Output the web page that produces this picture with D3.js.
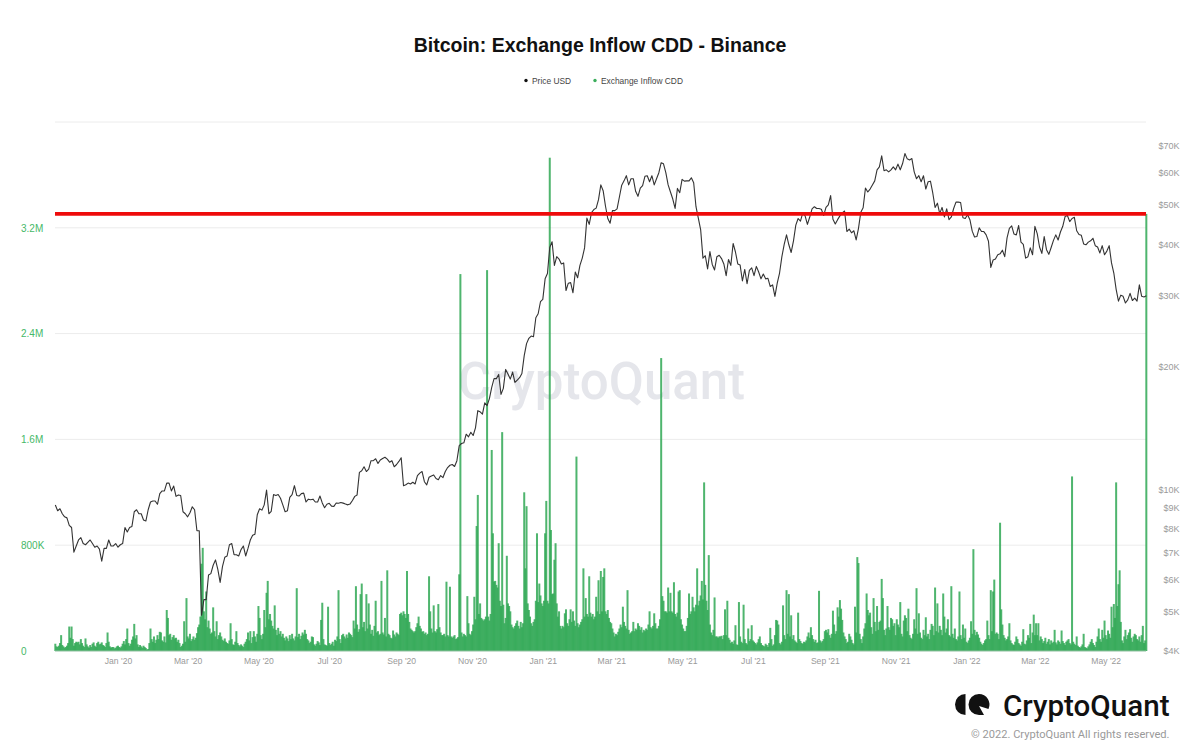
<!DOCTYPE html>
<html>
<head>
<meta charset="utf-8">
<script src="https://cdnjs.cloudflare.com/ajax/libs/d3/7.8.5/d3.min.js"></script>
<style>
html,body{margin:0;padding:0;background:#fff;}
svg{display:block;}
</style>
</head>
<body>
<svg id="c" width="1200" height="756"></svg>
<script>
// ---------- Text ----------
const chartTitle = "Bitcoin: Exchange Inflow CDD - Binance";
const seriesNames = ["Price USD", "Exchange Inflow CDD"];
const watermark = "CryptoQuant";
const copyright = "\u00A9 2022. CryptoQuant All rights reserved.";

// ---------- Axes ----------
const xTickDates = ["2020-01-01","2020-03-01","2020-05-01","2020-07-01","2020-09-01","2020-11-01","2021-01-01","2021-03-01","2021-05-01","2021-07-01","2021-09-01","2021-11-01","2022-01-01","2022-03-01","2022-05-01"];
const xTickLabels = ["Jan '20","Mar '20","May '20","Jul '20","Sep '20","Nov '20","Jan '21","Mar '21","May '21","Jul '21","Sep '21","Nov '21","Jan '22","Mar '22","May '22"];
const leftTicks = [0,800,1600,2400,3200];
const leftLabels = ["0","800K","1.6M","2.4M","3.2M"];
const gridLevels = [800,1600,2400,3200,4000];
const rightTicks = [4000,5000,6000,7000,8000,9000,10000,20000,30000,40000,50000,60000,70000];
const rightLabels = ["$4K","$5K","$6K","$7K","$8K","$9K","$10K","$20K","$30K","$40K","$50K","$60K","$70K"];
const redLevel = 3305; // thousand CDD

// ---------- Exchange Inflow CDD (thousands), daily, from each block's start date ----------
const cddStarts = ["2019-11-08","2020-01-01","2020-03-01","2020-05-01","2020-07-01","2020-09-01","2020-11-01","2021-01-01","2021-03-01","2021-05-01","2021-07-01","2021-09-01","2021-11-01","2022-01-01","2022-03-01","2022-05-01"];
const cddNovDec19 = [55,35,30,40,60,120,45,35,25,30,
40,60,185,100,185,90,40,60,70,65,
70,50,90,60,40,30,95,50,35,25,
45,30,55,65,40,30,60,70,50,55,
65,45,40,30,60,140,70,35,25,30,
30,20,25,35];
const cddJanFeb20 = [40,30,25,35,55,75,50,90,170,60,
40,55,85,110,205,95,120,50,30,45,
35,25,40,30,22,10,15,60,170,90,
70,110,60,85,120,90,145,140,80,70,
110,65,310,250,120,130,85,105,120,95,
100,70,85,60,30,40,55,225,70,400];
const cddMarApr20 = [110,95,130,75,90,110,85,100,135,180,
200,260,660,780,300,240,450,180,230,170,
130,140,330,150,110,225,90,120,140,110,
85,75,95,70,60,55,80,210,90,50,
45,70,150,60,45,35,50,40,30,55,
70,90,140,80,150,60,105,150,110,70,
130];
const cddMayJun20 = [340,250,120,90,130,310,180,440,530,240,
280,230,190,170,345,160,120,175,130,150,
110,130,100,80,110,95,75,120,90,130,
95,80,110,475,105,130,90,115,140,125,
160,130,90,80,60,70,110,105,50,40,
55,75,65,45,235,365,90,50,45,40,
335];
const cddJulAug20 = [60,45,55,70,40,85,75,110,460,90,
60,120,130,110,95,125,100,140,130,120,
105,230,170,490,200,145,165,430,510,180,
220,150,430,170,360,200,130,160,115,190,
380,140,150,120,130,530,140,125,250,110,
610,130,120,100,95,155,125,110,140,130,
120,280];
const cddSepOct20 = [290,270,300,280,250,605,280,220,170,160,
150,140,150,180,210,260,190,170,145,150,
130,140,120,130,565,300,170,140,345,150,
140,165,355,180,140,120,120,130,110,524,
120,110,486,110,100,110,120,90,95,105,
580,2850,140,110,130,120,110,415,210,130,
120];
const cddNovDec20 = [150,200,410,240,945,1180,280,360,250,240,
230,240,260,2880,260,230,280,1520,890,525,
530,500,480,815,380,340,1655,350,210,250,
720,360,340,300,200,180,170,190,210,230,
190,170,220,180,210,1200,625,1095,360,310,
260,210,190,220,240,380,890,370,510,420,
360];
const cddJanFeb21 = [340,380,890,1135,380,360,3730,915,430,435,
690,815,360,260,300,190,170,190,180,285,
315,210,190,240,315,220,300,230,190,1470,
210,180,200,220,240,625,260,400,280,260,
565,290,260,280,240,260,410,300,535,280,
605,300,560,625,300,280,310,250,220];
const cddMarApr21 = [210,170,140,110,130,120,145,170,200,180,
335,220,190,170,460,160,130,140,150,220,
150,170,160,210,190,160,180,140,160,150,
170,160,200,300,180,170,190,285,210,170,
170,190,240,2215,415,380,300,300,290,480,
300,440,300,290,520,280,260,290,450,460,
240];
const cddMayJun21 = [200,170,150,150,190,250,435,280,300,410,
330,300,350,625,345,380,420,530,390,1275,
500,380,310,725,200,140,120,160,405,110,
110,100,110,110,115,90,120,315,120,380,
100,85,60,70,55,80,195,50,45,370,
110,70,60,350,90,60,50,170,75,90,
195];
const cddJulAug21 = [80,70,60,50,65,90,110,60,45,40,
35,55,45,30,60,175,90,40,50,120,
235,230,200,60,50,70,345,120,90,460,
130,430,110,270,90,120,80,70,60,290,
90,75,60,55,70,65,80,110,140,100,
180,120,90,70,85,60,65,455,80,65,
75,90];
const cddSepOct21 = [150,160,140,165,120,100,130,305,200,130,
150,330,260,385,320,235,140,110,90,60,
70,130,110,85,60,50,335,140,710,665,
130,90,60,110,170,210,435,310,270,290,
180,130,400,220,150,340,160,220,230,545,
400,160,120,170,340,180,160,250,240,190,
210];
const cddNovDec21 = [120,240,200,180,370,130,110,230,270,250,
150,320,120,100,90,130,240,170,475,130,
285,140,100,90,160,120,255,110,130,90,
160,205,190,120,480,150,360,140,190,160,
120,435,260,140,170,240,120,110,490,130,
100,170,90,80,110,450,120,90,200,100,
170];
const cddJanFeb22 = [70,60,80,100,225,130,770,160,120,145,
125,100,70,55,45,60,80,90,230,120,
90,460,150,450,540,130,140,130,90,970,
315,200,120,100,80,90,110,210,80,60,
50,45,70,110,90,60,50,40,70,165,
55,50,80,120,100,205,60,140,275];
const cddMarApr22 = [120,210,120,210,80,110,90,60,75,100,
55,70,90,50,80,60,70,160,65,50,
80,70,55,155,75,60,45,70,80,90,
60,50,1320,70,55,45,110,40,30,25,
35,50,130,30,25,20,35,50,70,90,
60,45,30,70,110,170,90,70,160,100,
230];
const cddMay22 = [120,90,155,130,100,335,180,355,250,1275,
340,505,610,220,80,60,110,160,90,120,
140,165,100,70,110,130,120,90,80,110,
70,120,190,60,80,3305];
const cddBlocks = [cddNovDec19,cddJanFeb20,cddMarApr20,cddMayJun20,cddJulAug20,cddSepOct20,cddNovDec20,cddJanFeb21,cddMarApr21,cddMayJun21,cddJulAug21,cddSepOct21,cddNovDec21,cddJanFeb22,cddMarApr22,cddMay22];

// ---------- Price USD, every second day, from each block's start date ----------
const priceStarts = ["2019-11-08","2020-01-01","2020-03-01","2020-05-02","2020-07-01","2020-09-01","2020-11-02","2021-01-01","2021-03-02","2021-05-01","2021-07-02","2021-09-02","2021-11-01","2022-01-02","2022-03-01","2022-05-02"];
const priceNovDec19 = [9140,8850,8950,8700,8550,8500,8150,8050,7000,7250,7500,7600,7350,7300,7400,7500,7350,7200,7250,7120,6650,7150,7150,7500,7250,7250,7350];
const priceJanFeb20 = [7200,7300,7350,8050,7850,8050,8100,8800,8900,8700,8700,8400,8350,8900,9300,9350,9350,9180,9750,9900,9900,10350,10350,9900,10180,9600,9680,9650,8800,8700];
const priceMarApr20 = [8550,8750,9050,8900,7900,7900,4900,5350,5350,6150,6200,6500,6700,6350,5900,6450,6800,6850,7300,7350,6900,6900,6850,7100,7250,6850,7150,7500,7700,7750,8650];
const priceMayJun20 = [8950,8880,9150,9950,8700,8820,9700,9650,9700,9500,9150,8800,8850,9550,9700,10200,9650,9620,9750,9780,9300,9450,9420,9450,9300,9300,9620,9250,9000,9180];
const priceJulAug20 = [9230,9080,9070,9250,9230,9270,9240,9190,9150,9200,9380,9600,9680,11000,11100,11350,11050,11200,11750,11750,11880,11570,11800,11900,11980,11850,11650,11750,11350,11500,11700];
const priceSepOct20 = [11950,10200,10250,10350,10300,10400,10300,10800,10950,11050,10430,10250,10700,10780,10840,10620,10550,10800,10680,11050,11300,11450,11500,11370,11750,12800,12950,13000,13650,13450,13800];
const priceNovDec20 = [13550,14150,15600,15500,15300,16300,16050,16700,17800,18700,18700,19150,17100,17700,19700,19200,18650,19400,18300,18550,18800,19250,21300,22800,23500,23800,23700,26400,27000,28900];
const priceJanFeb21 = [29300,32900,33900,39300,40600,35500,37300,36800,35800,36000,30800,32100,32200,30400,34200,33100,35500,37000,39200,46400,44800,47900,48700,49100,51500,56000,54200,49700,46300,45100];
const priceMarApr21 = [48400,48400,48900,52300,55900,57300,59000,56000,58000,58000,54000,52500,55000,55800,58800,59000,57000,59000,56000,58000,60000,63500,63100,60000,56000,53800,51700,49000,54900,53600];
const priceMayJun21 = [57800,57200,57300,57300,58300,56700,49500,46400,43500,37000,37500,34800,38400,35700,34600,37300,37600,36900,35800,33500,36700,35500,40200,38300,35800,35600,32500,34700,32000,34500,35000];
const priceJulAug21 = [33500,35300,34200,32900,33800,32900,33000,31500,31800,29800,32100,34000,37300,40000,42200,39900,38200,40800,44600,46300,45600,47800,47000,44800,46700,48900,49500,49000,49000,48800,47100];
const priceSepOct21 = [49300,50000,52700,46100,44900,46000,47000,47800,48300,43000,43600,42700,43200,41000,43800,48000,49200,55000,53800,54700,56000,57300,61000,62000,66000,60700,61000,60300,61000,62000];
const priceNovDec21 = [61000,63000,61000,63200,66900,64900,64500,65000,60300,58000,59000,57000,59000,54700,57000,57200,53500,49300,50500,47600,49300,46700,48900,46000,46700,49000,50800,50800,50700,46500,46300];
const priceJanFeb22 = [47300,46000,43100,41700,41800,43900,43000,43000,42200,40700,35100,36600,36800,37700,37900,38700,37300,41500,43800,44400,42400,42200,44500,40500,40000,37000,37300,39200,37700];
const priceMarApr22 = [44300,42500,39400,38000,41800,38800,37800,39300,40900,42200,41000,42900,44300,46800,47100,45500,46300,46600,43200,42300,42100,40100,39900,40500,40800,41400,39700,39400,38100,39700,37700];
const priceMay22 = [38500,39700,36000,34000,31000,29000,30000,29800,28700,29200,30300,29100,29500,29000,31800,29800,29700,29900];
const priceBlocks = [priceNovDec19,priceJanFeb20,priceMarApr20,priceMayJun20,priceJulAug20,priceSepOct20,priceNovDec20,priceJanFeb21,priceMarApr21,priceMayJun21,priceJulAug21,priceSepOct21,priceNovDec21,priceJanFeb22,priceMarApr22,priceMay22];

// ---------- Build ----------
const DAY = 864e5;
const parse = d3.utcParse("%Y-%m-%d");
const cddData = cddBlocks.flatMap((b,k)=>b.map((v,i)=>({date:new Date(+parse(cddStarts[k])+i*DAY),v})));
const priceData = priceBlocks.flatMap((b,k)=>b.map((v,i)=>({date:new Date(+parse(priceStarts[k])+2*i*DAY),v})));

const GREEN="#30a855", GRID="#ececec", AXIS="#9a9a9a";
const x = d3.scaleUtc().domain([parse("2020-01-01"),parse("2022-05-01")]).range([118,1105.7]);
const plotL = 55, plotR = 1146;
const yCdd = d3.scaleLinear().domain([0,4000]).range([651,122]);
const yPrice = d3.scaleLog().domain([4000,70000]).range([651,145.5]);

const svg = d3.select("#c");
svg.append("text").attr("x",600).attr("y",52).attr("text-anchor","middle")
  .attr("font-family","Liberation Sans").attr("font-weight",700).attr("font-size",19.5).attr("fill","#111").text(chartTitle);

// legend
const legendX=[526,595], legendCol=["#111","#3bae5c"];
seriesNames.forEach((n,i)=>{
  svg.append("circle").attr("cx",legendX[i]).attr("cy",80.5).attr("r",1.7).attr("fill",legendCol[i]);
  svg.append("text").attr("x",legendX[i]+6).attr("y",83.5).attr("font-family","Liberation Sans").attr("font-size",8.4).attr("fill","#444").text(n);
});

// grid
svg.append("g").selectAll("line").data(gridLevels).join("line")
  .attr("x1",plotL).attr("x2",plotR).attr("y1",d=>yCdd(d)).attr("y2",d=>yCdd(d)).attr("stroke",GRID).attr("stroke-width",1);

// watermark
svg.append("text").attr("x",458).attr("y",399).attr("font-family","Roboto").attr("font-weight",500).attr("font-size",51)
  .attr("fill","#e5e6eb").text(watermark);

// bars
svg.append("g").selectAll("rect").data(cddData).join("rect")
  .attr("x",d=>x(d.date)-1).attr("width",2)
  .attr("y",d=>yCdd(d.v)).attr("height",d=>yCdd(0)-yCdd(d.v)).attr("fill",GREEN).attr("fill-opacity",0.85);
svg.append("line").attr("x1",plotL).attr("x2",plotR).attr("y1",yCdd(0)).attr("y2",yCdd(0)).attr("stroke","#8fbf9f").attr("stroke-width",1);

// price
const line = d3.line().x(d=>x(d.date)).y(d=>yPrice(d.v));
svg.append("path").datum(priceData).attr("d",line).attr("fill","none").attr("stroke","#333").attr("stroke-width",1.1).attr("stroke-linejoin","round");

// red level
svg.append("line").attr("x1",plotL).attr("x2",plotR).attr("y1",yCdd(redLevel)).attr("y2",yCdd(redLevel)).attr("stroke","#ee0b0b").attr("stroke-width",3.6);

// axes
const xAxis = d3.axisBottom(x).tickValues(xTickDates.map(parse)).tickSize(0).tickFormat((d,i)=>xTickLabels[i]);
const gx = svg.append("g").attr("transform","translate(0,651)").call(xAxis);
gx.select(".domain").remove();
gx.selectAll("text").attr("y",7).attr("font-family","Liberation Sans").attr("font-size",8.6).attr("fill",AXIS);

const lAxis = d3.axisLeft(yCdd).tickValues(leftTicks).tickSize(0).tickFormat((d,i)=>leftLabels[i]);
const gl = svg.append("g").attr("transform","translate(21,0)").call(lAxis);
gl.select(".domain").remove();
gl.selectAll("text").attr("x",0).attr("text-anchor","start").attr("font-family","Liberation Sans").attr("font-size",10).attr("fill","#46b867");

const rAxis = d3.axisRight(yPrice).tickValues(rightTicks).tickSize(0).tickFormat((d,i)=>rightLabels[i]);
const gr = svg.append("g").attr("transform","translate(1179.5,0)").call(rAxis);
gr.select(".domain").remove();
gr.selectAll("text").attr("x",0).attr("text-anchor","end").attr("font-family","Liberation Sans").attr("font-size",9).attr("fill",AXIS);

// brand logo + footer
const logo = svg.append("g").attr("fill","#111");
logo.append("path").attr("d","M965.5 694 A10.5 10.5 0 0 0 965.5 715 Z");
logo.append("path").attr("d","M979 694 A10.5 10.5 0 0 0 979 715 L984 715 L979 706 L988.5 709 A10.5 10.5 0 0 0 979 694 Z");
svg.append("text").attr("x",1169.5).attr("y",715.5).attr("text-anchor","end").attr("font-family","Roboto").attr("font-weight",500).attr("font-size",29.6).attr("fill","#111").text(watermark);
svg.append("text").attr("x",1169.5).attr("y",737.5).attr("text-anchor","end").attr("font-family","Roboto").attr("font-size",11.1).attr("fill","#9a9a9a").text(copyright);
</script>
</body>
</html>
